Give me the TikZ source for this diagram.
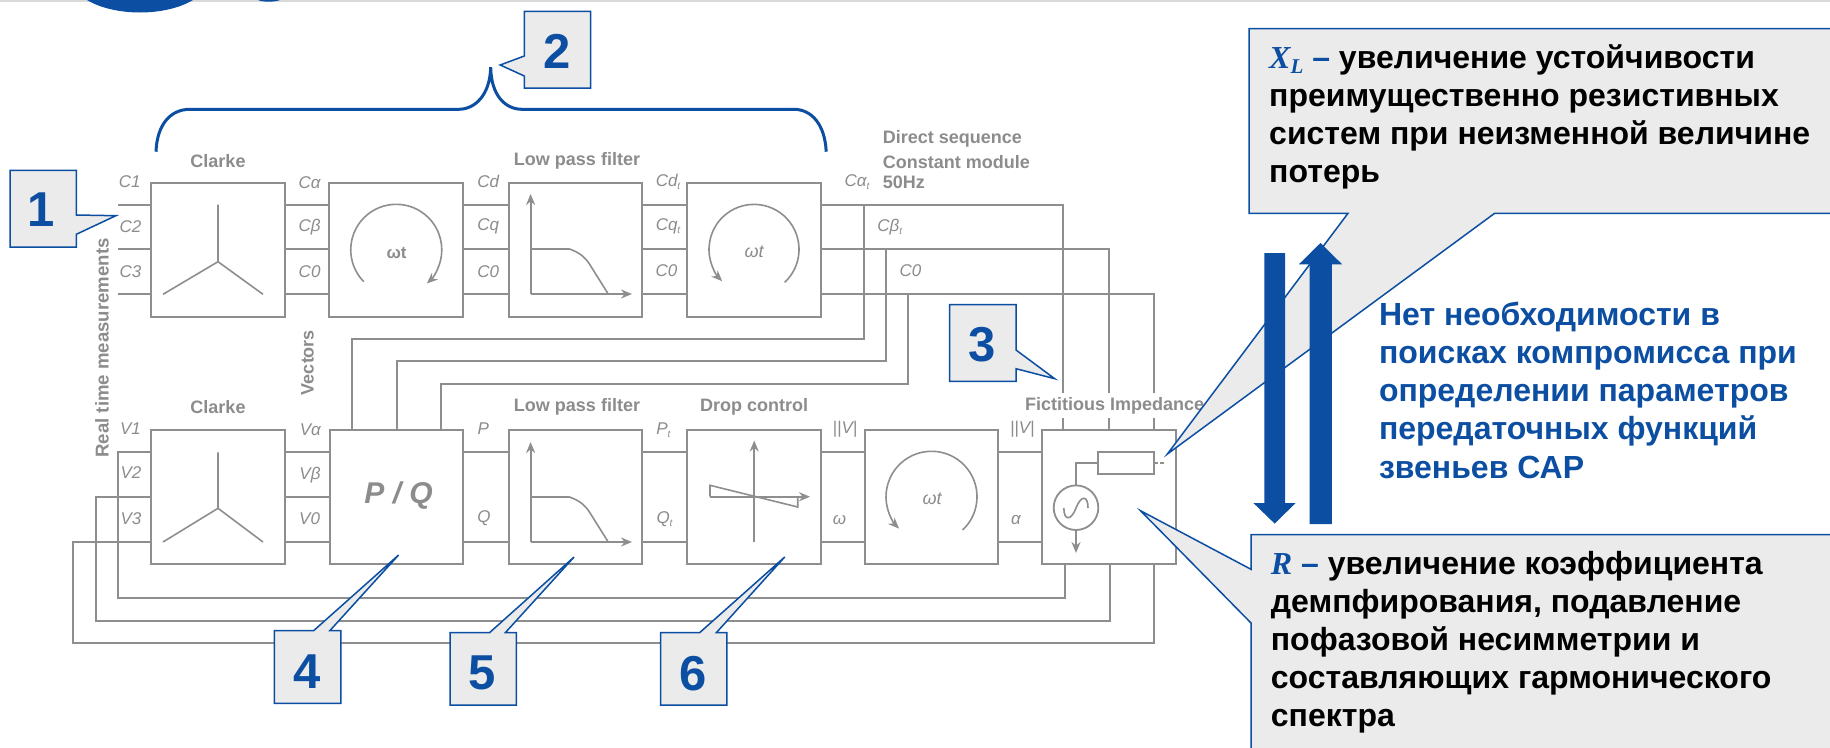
\documentclass[tikz,border=0pt]{standalone}
\usepackage{fontspec}
\setmainfont{Liberation Sans}
\newfontfamily\serifnum{Liberation Serif}
\usetikzlibrary{arrows.meta}
\definecolor{wire}{HTML}{8E8E8E}
\definecolor{labelgray}{HTML}{8C8C8C}
\definecolor{navy}{HTML}{0B4EA2}
\definecolor{calloutfill}{HTML}{EBEBEB}
\newcommand{\tsub}[1]{\raisebox{-3.5pt}{\fontsize{10}{10}\selectfont #1}}
\tikzset{
  x=1pt,y=-1pt,
  blockbox/.style={draw=wire,line width=2pt,fill=white,minimum width=133.5pt,minimum height=134pt,inner sep=0pt,outer sep=0pt},
  wireline/.style={draw=wire,line width=2pt,line join=miter},
  arrowline/.style={draw=wire,line width=2pt,-{Stealth[length=11pt,width=9pt]}},
  thinline/.style={draw=wire,line width=1.6pt},
  title/.style={text=labelgray,font=\fontsize{18}{20}\selectfont\bfseries,inner sep=0pt},
  sig/.style={text=labelgray,font=\fontsize{17}{19}\selectfont\itshape,inner sep=0pt},
  callout/.style={draw=navy,line width=1.5pt,fill=calloutfill,line join=miter},
  number/.style={text=navy,font=\fontsize{49}{52}\selectfont\bfseries,inner sep=0pt},
  bigtext/.style={font=\fontsize{32}{38.1}\selectfont\bfseries,align=left,anchor=north west,inner sep=0pt},
  fatarrow/.style={fill=navy,draw=none},
}
\begin{document}
\begin{tikzpicture}
\useasboundingbox (0,0) rectangle (1830,747);
\clip (0,0) rectangle (1830,747);
\fill[white] (0,0) rectangle (1830,747);
% top band and logo
\fill[gray!30] (0,0) rectangle (1830,2);
\fill[navy] (87,0) .. controls (100,8) and (120,12.5) .. (140,12.5) .. controls (160,12.5) and (180,8) .. (193,0) -- cycle;
\fill[navy] (258,0) .. controls (262,2.2) and (275,2.2) .. (280,0) -- cycle;
% blocks
\node[blockbox] (clarkeA) at (218,249.7) {};
\node[blockbox] (rotA) at (396.2,249.7) {};
\node[blockbox] (lpfA) at (575.4,249.7) {};
\node[blockbox] (rotB) at (753.8,249.7) {};
\node[blockbox] (clarkeB) at (218,497) {};
\node[blockbox] (pq) at (396.6,497) {};
\node[blockbox] (lpfB) at (575.6,497) {};
\node[blockbox] (drop) at (753.8,497) {};
\node[blockbox] (rotC) at (931.5,497) {};
\node[blockbox] (fict) at (1108.8,497) {};
\coordinate (inA) at (118,0);
\coordinate (vtwo) at (96,0);
\coordinate (vthree) at (73,0);
% top row wires
\foreach \yy in {205,249,294}{
  \draw[wireline] (inA |- 0,\yy) -- (clarkeA.west |- 0,\yy);
  \draw[wireline] (clarkeA.east |- 0,\yy) -- (rotA.west |- 0,\yy);
  \draw[wireline] (rotA.east |- 0,\yy) -- (lpfA.west |- 0,\yy);
  \draw[wireline] (lpfA.east |- 0,\yy) -- (rotB.west |- 0,\yy);
}
% bottom row wires
\foreach \yy in {452,497,542}{
  \draw[wireline] (clarkeB.east |- 0,\yy) -- (pq.west |- 0,\yy);
}
\foreach \yy in {452,542}{
  \draw[wireline] (pq.east |- 0,\yy) -- (lpfB.west |- 0,\yy);
  \draw[wireline] (lpfB.east |- 0,\yy) -- (drop.west |- 0,\yy);
  \draw[wireline] (drop.east |- 0,\yy) -- (rotC.west |- 0,\yy);
  \draw[wireline] (rotC.east |- 0,\yy) -- (fict.west |- 0,\yy);
}
% feedback to fictitious impedance
\draw[wireline] (rotB.east |- 0,205) -- (1063.4,205) -- (1063.4,0 |- fict.north);
\draw[wireline] (rotB.east |- 0,249) -- (1109,249) -- (1109,0 |- fict.north);
\draw[wireline] (rotB.east |- 0,294) -- (1153.6,294) -- (1153.6,0 |- fict.north);
% vectors to P/Q
\draw[wireline] (864,205) -- (864,338.5) -- (352,338.5) -- (352,0 |- pq.north);
\draw[wireline] (886.3,249) -- (886.3,361) -- (397,361) -- (397,0 |- pq.north);
\draw[wireline] (908.4,294) -- (908.4,383.7) -- (441,383.7) -- (441,0 |- pq.north);
% measured voltage return wires
\draw[wireline] (clarkeB.west |- 0,452) -- (inA |- 0,452) -- (inA |- 0,598.3) -- (1065,598.3) -- (1065,0 |- fict.south);
\draw[wireline] (clarkeB.west |- 0,497) -- (vtwo |- 0,497) -- (vtwo |- 0,620.7) -- (1109.7,620.7) -- (1109.7,0 |- fict.south);
\draw[wireline] (clarkeB.west |- 0,542) -- (vthree |- 0,542) -- (vthree |- 0,643.3) -- (1154.4,643.3) -- (1154.4,0 |- fict.south);
% Clarke symbols
\foreach \yc/\yt/\yb in {261.7/204.7/294.3,508.3/452.3/542}{
  \draw[thinline] (218,\yt) -- (218,\yc) -- (163,\yb);
  \draw[thinline] (218,\yc) -- (263,\yb);
}
% rotations
\draw[thinline,-{Stealth[length=11pt,width=9pt]}] (363.8,281.7) arc[start angle=224.5,end angle=-47.8,radius=45.5pt];
\draw[thinline,-{Stealth[length=11pt,width=9pt]}] (784.7,282.3) arc[start angle=-47,end angle=225,radius=45pt];
\draw[thinline,-{Stealth[length=11pt,width=9pt]}] (962.6,530) arc[start angle=-46.9,end angle=224.4,radius=45.5pt];
% low-pass symbols
\foreach \dy in {0,248}{
  \draw[arrowline] (530.6,294+\dy) -- (530.6,194+\dy);
  \draw[arrowline] (530.6,294+\dy) -- (632,294+\dy);
  \draw[thinline] (530.6,249+\dy) -- (569.4,249+\dy) .. controls (578,252+\dy) and (584,256+\dy) .. (589,263.3+\dy) -- (607.8,293.3+\dy);
}
% droop symbol
\draw[arrowline] (754.2,542.3) -- (754.2,440.5);
\draw[arrowline] (710,496.7) -- (810,496.7);
\draw[thinline] (710,496.7) -- (710,485.3) -- (797.7,507) -- (797.7,496.7);
% fictitious impedance
\node[draw=wire,line width=1.8pt,minimum width=55.4pt,minimum height=22.3pt,inner sep=0pt] (res) at (1125.9,462.8) {};
\node[circle,draw=wire,line width=1.8pt,minimum size=44.6pt,inner sep=0pt] (src) at (1076,507.7) {};
\draw[thinline] (src.north) -- (1076,462.8) -- (res.west);
\draw[thinline] (res.east) -- (1158,462.8);
\draw[thinline] (1160,462.8) -- (1164,462.8);
\draw[arrowline] (src.south) -- (1076,553);
\draw[thinline] (1063.8,508) .. controls (1064,521) and (1071,521) .. (1076,508) .. controls (1081,495) and (1088,495) .. (1088,508);
% block text
\node[text=labelgray,font=\fontsize{17}{18}\selectfont\bfseries,inner sep=0pt] (wtA) at (396.6,252.7) {ωt};
\node[text=labelgray,font=\fontsize{18}{19}\selectfont\itshape,inner sep=0pt] (wtB) at (754,251.7) {ωt};
\node[text=labelgray,font=\fontsize{18}{19}\selectfont\itshape,inner sep=0pt] (wtC) at (932,499) {ωt};
\node[text=labelgray,font=\fontsize{30}{32}\selectfont\itshape\bfseries,inner sep=0pt] (pqtext) at (398.6,496) {P / Q};
% titles
\node[title] (tA) at (218,161) {Clarke};
\node[title] (tB) at (577,161) {Low pass filter};
\node[title] (tC) at (218,407.3) {Clarke};
\node[title] (tD) at (577,407) {Low pass filter};
\node[title] (tE) at (754.2,406.7) {Drop control};
\node[title,anchor=west,fill=white,inner xsep=2pt,inner ysep=4pt,minimum height=25pt] (tF) at (1023,405.5) {Fictitious Impedance};
\draw[wireline] (1063.4,418) -- (1063.4,0 |- fict.north);
\draw[wireline] (1109,418) -- (1109,0 |- fict.north);
\draw[wireline] (1153.6,418) -- (1153.6,0 |- fict.north);
\node[title,anchor=west] (tG) at (882.7,139.3) {Direct sequence};
\node[title,anchor=west] (tH) at (882.7,161.7) {Constant module};
\node[title,anchor=west] (tI) at (882.7,182.7) {50Hz};
\node[title,rotate=90,font=\fontsize{18.6}{20}\selectfont\bfseries] (tJ) at (102,348) {Real time measurements};
\node[title,rotate=90] (tK) at (307.6,362.5) {Vectors};
% signal labels
\node[sig] (s1) at (129.7,182) {C1};
\node[sig] (s2) at (130.5,226.7) {C2};
\node[sig] (s3) at (130.5,271.7) {C3};
\node[sig] (s4) at (309.6,182.7) {Cα};
\node[sig] (s5) at (309.6,227) {Cβ};
\node[sig] (s6) at (309.6,271.7) {C0};
\node[sig] (s7) at (488.3,181) {Cd};
\node[sig] (s8) at (488.3,226) {Cq};
\node[sig] (s9) at (488.3,271.7) {C0};
\node[sig] (s10) at (668,181.7) {Cd\tsub{t}};
\node[sig] (s11) at (668,226) {Cq\tsub{t}};
\node[sig] (s12) at (666.4,271) {C0};
\node[sig] (s13) at (857,182.3) {Cα\tsub{t}};
\node[sig] (s14) at (889.8,226.7) {Cβ\tsub{t}};
\node[sig] (s15) at (910.4,271) {C0};
\node[sig] (s16) at (130.5,428.3) {V1};
\node[sig] (s17) at (131,472.7) {V2};
\node[sig] (s18) at (131,518.3) {V3};
\node[sig] (s19) at (310.4,429.3) {Vα};
\node[sig] (s20) at (310,475) {Vβ};
\node[sig] (s21) at (309.6,518.3) {V0};
\node[sig] (s22) at (483.2,428.3) {P};
\node[sig] (s23) at (484,518) {Q};
\node[sig] (s24) at (663.3,430) {P\tsub{t}};
\node[sig] (s25) at (664.5,519.3) {Q\tsub{t}};
\node[sig] (s26) at (845,429.3) {||V|};
\node[sig] (s27) at (839.6,520) {ω};
\node[sig] (s28) at (1022.3,429.3) {||V|};
\node[sig] (s29) at (1016,520) {α};
% brace
\draw[navy,line width=3pt] (156,151.7) .. controls (157,125) and (170,109.3) .. (190,109.3) -- (458.7,109.3) .. controls (475,109.3) and (490,95) .. (490.7,67.3) .. controls (491,95) and (505,109.3) .. (522,109.3) -- (793.7,109.3) .. controls (812,109.3) and (825,125) .. (826.2,151.7);
% numbered callouts
\draw[callout] (10,170.3) -- (76.3,170.3) -- (76.3,215) -- (115.9,215.7) -- (76.3,234.3) -- (76.3,247) -- (10,247) -- cycle;
\node[number] (n1) at (40.7,210) {1};
\draw[callout] (524.3,11.3) -- (590.7,11.3) -- (590.7,88) -- (524.3,88) -- (524.3,76) -- (500.2,65) -- (524.3,56) -- cycle;
\node[number] (n2) at (556.7,51.7) {2};
\draw[callout] (949.5,304.7) -- (1016,304.7) -- (1016,350) -- (1054.7,378.7) -- (1016,368.7) -- (1016,381.3) -- (949.5,381.3) -- cycle;
\node[number] (n3) at (982.4,345) {3};
\draw[callout] (274.4,630.7) -- (313.6,630.7) -- (398.6,555) -- (329.8,630.7) -- (340.8,630.7) -- (340.8,703.3) -- (274.4,703.3) -- cycle;
\node[number] (n4) at (306.8,671.7) {4};
\draw[callout] (450,632.7) -- (489.5,632.7) -- (574.1,557) -- (505.3,632.7) -- (516.4,632.7) -- (516.4,705) -- (450,705) -- cycle;
\node[number] (n5) at (482.4,673.3) {5};
\draw[callout] (660.5,632.7) -- (699.6,632.7) -- (784.7,557) -- (716.3,632.7) -- (726.9,632.7) -- (726.9,705) -- (660.5,705) -- cycle;
\node[number] (n6) at (693.3,673.3) {6};
% text callouts
\draw[callout] (1249,28.6) -- (1840,28.6) -- (1840,213.4) -- (1494.5,213.4) -- (1167.4,454) -- (1347.9,213.4) -- (1249,213.4) -- cycle;
\draw[callout] (1251,534.6) -- (1840,534.6) -- (1840,760) -- (1251,760) -- (1251,623) -- (1140.5,510.7) -- (1251,569.3) -- cycle;
\node[bigtext] (xl) at (1269,44) {{\serifnum\itshape\color{navy}X\raisebox{-5pt}{\fontsize{21}{21}\selectfont L}} {\color{navy}–} увеличение устойчивости\\преимущественно резистивных\\систем при неизменной величине\\потерь};
\node[bigtext] (rr) at (1270.7,550.7) {{\serifnum\itshape\color{navy}R} {\color{navy}–} увеличение коэффициента\\демпфирования, подавление\\пофазовой несимметрии и\\составляющих гармонического\\спектра};
% fat arrows
\fill[fatarrow] (1264.3,253) -- (1285.2,253) -- (1285.2,503) -- (1295.6,503) -- (1274.7,523.6) -- (1253.4,503) -- (1264.3,503) -- cycle;
\fill[fatarrow] (1309.7,524) -- (1331.8,524) -- (1331.8,264.4) -- (1342.2,264.4) -- (1320.5,243) -- (1298.8,264.4) -- (1309.7,264.4) -- cycle;
\node[bigtext,text=navy] (mid) at (1378.8,302) {Нет необходимости в\\поисках компромисса при\\определении параметров\\передаточных функций\\звеньев САР};
\end{tikzpicture}
\end{document}
